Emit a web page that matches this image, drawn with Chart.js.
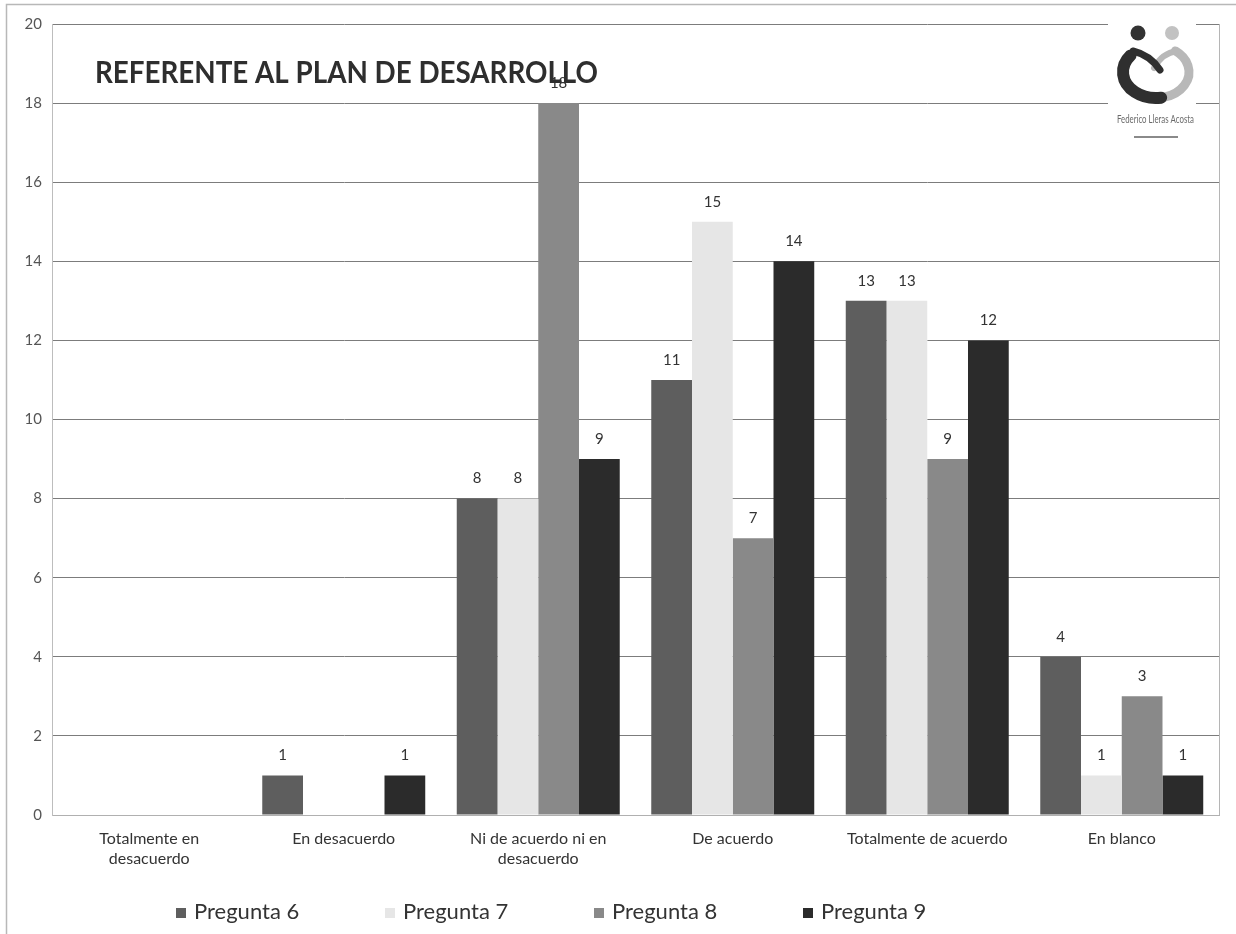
<!DOCTYPE html>
<html>
<head>
<meta charset="utf-8">
<title>Referente al plan de desarrollo</title>
<script src="https://cdn.jsdelivr.net/npm/chart.js@4.4.1/dist/chart.umd.min.js"></script>
<style>
  html, body { margin: 0; padding: 0; background: #ffffff; }
  #wrap { width: 1236px; height: 934px; position: relative; }
</style>
</head>
<body>
<div id="wrap"><canvas id="chart" width="1236" height="934"></canvas></div>
<script>
// Survey answers per category
const categories = [
  ['Totalmente en', 'desacuerdo'],
  'En desacuerdo',
  ['Ni de acuerdo ni en', 'desacuerdo'],
  'De acuerdo',
  'Totalmente de acuerdo',
  'En blanco'
];
const seriesNames = ['Pregunta 6', 'Pregunta 7', 'Pregunta 8', 'Pregunta 9'];
const pregunta6 = [0, 1, 8, 11, 13, 4];
const pregunta7 = [0, 0, 8, 15, 13, 1];
const pregunta8 = [0, 0, 18, 7, 9, 3];
const pregunta9 = [0, 1, 9, 14, 12, 1];
const yTicks = [0, 2, 4, 6, 8, 10, 12, 14, 16, 18, 20];

const chartTitle = 'REFERENTE AL PLAN DE DESARROLLO';
const logoName = 'Federico Lleras Acosta';

const seriesColors = ['#5e5e5e', '#e6e6e6', '#898989', '#2b2b2b'];
const FONT = 'Lato, "Open Sans", sans-serif';

const datasets = [pregunta6, pregunta7, pregunta8, pregunta9].map((vals, i) => ({
  label: seriesNames[i],
  data: vals,
  backgroundColor: seriesColors[i],
  borderWidth: 0,
  categoryPercentage: 0.838,
  barPercentage: 1.0
}));

// draw text squeezed to a given width
function fillFitted(ctx, text, x, y, width) {
  const w = ctx.measureText(text).width;
  ctx.save();
  ctx.translate(x, y);
  ctx.scale(width / w, 1);
  ctx.fillText(text, 0, 0);
  ctx.restore();
}

// Page frame, plot border, value labels, title, logo and legend
const decorations = {
  id: 'decorations',
  beforeDraw(chart) {
    const { ctx } = chart;
    ctx.save();
    ctx.fillStyle = '#ffffff';
    ctx.fillRect(0, 0, chart.width, chart.height);
    ctx.strokeStyle = '#b8b8b8';
    ctx.lineWidth = 1.5;
    ctx.beginPath();
    ctx.moveTo(6.5, chart.height);
    ctx.lineTo(6.5, 4.5);
    ctx.lineTo(chart.width, 4.5);
    ctx.stroke();
    ctx.restore();
  },
  afterDatasetsDraw(chart) {
    const { ctx, chartArea } = chart;
    ctx.save();
    // right border of the plot
    ctx.strokeStyle = '#b5b5b5';
    ctx.lineWidth = 1;
    ctx.beginPath();
    ctx.moveTo(Math.round(chartArea.right) + 0.5, chartArea.top);
    ctx.lineTo(Math.round(chartArea.right) + 0.5, chartArea.bottom);
    ctx.stroke();

    // value labels above bars
    ctx.fillStyle = '#333333';
    ctx.font = '15px ' + FONT;
    ctx.textAlign = 'center';
    ctx.textBaseline = 'middle';
    chart.data.datasets.forEach((ds, di) => {
      const meta = chart.getDatasetMeta(di);
      meta.data.forEach((bar, i) => {
        const v = ds.data[i];
        if (!v) return;
        ctx.fillText(String(v), bar.x, bar.y - 20);
      });
    });

    // title
    ctx.font = 'bold 30px ' + FONT;
    ctx.textAlign = 'left';
    ctx.textBaseline = 'alphabetic';
    ctx.fillStyle = '#2e2e2e';
    fillFitted(ctx, chartTitle, chartArea.left + 43, 83, 503);

    // logo
    const lx = chartArea.right - 111, ly = chartArea.top - 6;
    ctx.fillStyle = '#ffffff';
    ctx.fillRect(lx, ly, 88, 132);
    const hx = lx + 48, hy = ly + 54;
    ctx.fillStyle = '#333333';
    ctx.beginPath(); ctx.arc(hx - 18, ly + 15, 7.5, 0, Math.PI * 2); ctx.fill();
    ctx.fillStyle = '#c2c2c2';
    ctx.beginPath(); ctx.arc(hx + 16, ly + 15, 7, 0, Math.PI * 2); ctx.fill();
    ctx.lineCap = 'round';
    // light right half of the heart
    ctx.strokeStyle = '#b8b8b8';
    ctx.lineWidth = 9;
    ctx.beginPath();
    ctx.ellipse(hx, hy, 33, 26, 0, 0.42 * Math.PI, -0.3 * Math.PI, true);
    ctx.stroke();
    ctx.lineWidth = 6;
    ctx.beginPath();
    ctx.moveTo(hx + 21, hy - 21);
    ctx.quadraticCurveTo(hx + 6, hy - 19, hx - 2, hy - 4);
    ctx.stroke();
    // dark left half of the heart
    ctx.strokeStyle = '#2f2f2f';
    ctx.lineWidth = 12;
    ctx.beginPath();
    ctx.ellipse(hx, hy, 33, 26, 0, 1.22 * Math.PI, 0.45 * Math.PI, true);
    ctx.stroke();
    ctx.lineWidth = 7;
    ctx.beginPath();
    ctx.moveTo(hx - 23, hy - 21);
    ctx.quadraticCurveTo(hx - 6, hy - 17, hx + 4, hy - 2);
    ctx.stroke();
    // name
    ctx.fillStyle = '#6a6a6a';
    ctx.font = '11px ' + FONT;
    ctx.textAlign = 'left';
    ctx.textBaseline = 'middle';
    fillFitted(ctx, logoName, hx - 39, ly + 101, 77);
    ctx.fillStyle = '#8a8a8a';
    ctx.fillRect(hx - 22, ly + 118, 44, 2);

    // legend
    ctx.font = '22px ' + FONT;
    ctx.textAlign = 'left';
    ctx.textBaseline = 'alphabetic';
    const legendY = 919;
    const startX = 176, step = 209;
    chart.data.datasets.forEach((ds, i) => {
      const x = startX + i * step;
      ctx.fillStyle = ds.backgroundColor;
      ctx.fillRect(x, legendY - 11, 10, 10);
      ctx.fillStyle = '#333333';
      ctx.fillText(ds.label, x + 18, legendY);
    });
    ctx.restore();
  }
};

new Chart(document.getElementById('chart'), {
  type: 'bar',
  data: { labels: categories, datasets },
  options: {
    responsive: false,
    animation: false,
    layout: { padding: { top: 24, right: 17, bottom: 0, left: 0 } },
    plugins: {
      legend: { display: false },
      tooltip: { enabled: false }
    },
    scales: {
      x: {
        grid: { display: false },
        border: { display: true, color: '#b0b0b0', width: 1 },
        ticks: {
          color: '#333333',
          font: { family: FONT, size: 16, lineHeight: 1.25 },
          padding: 6,
          maxRotation: 0,
          autoSkip: false
        },
        afterFit(scale) { scale.height = 119; }
      },
      y: {
        min: 0,
        max: 20,
        afterBuildTicks(scale) { scale.ticks = yTicks.map(v => ({ value: v })); },
        grid: {
          drawTicks: false,
          color: (c) => (c.tick && c.tick.value === 0 ? '#b0b0b0' : '#7c7c7c'),
          lineWidth: 1
        },
        border: { display: true, color: '#bdbdbd', width: 1 },
        ticks: {
          color: '#555555',
          font: { family: FONT, size: 15 },
          padding: 10
        },
        afterFit(scale) { scale.width = 52; }
      }
    }
  },
  plugins: [decorations]
});
</script>
</body>
</html>
